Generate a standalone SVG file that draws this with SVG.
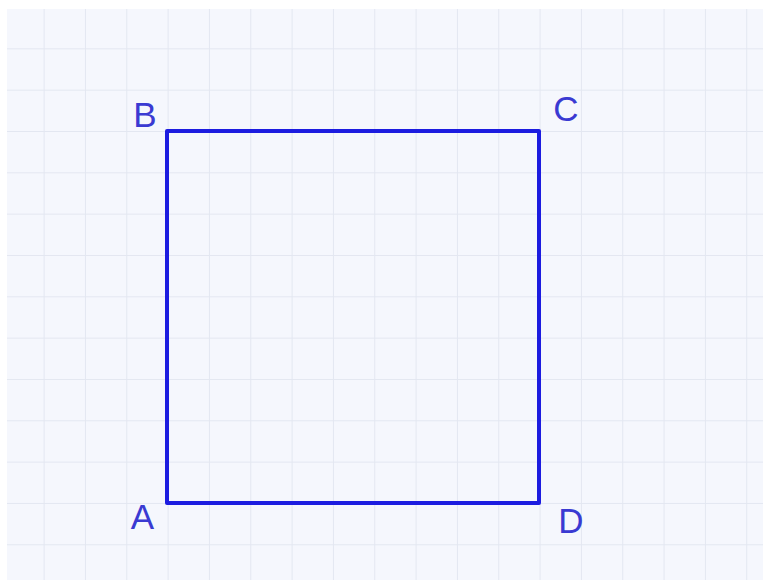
<svg xmlns="http://www.w3.org/2000/svg" width="767" height="583" viewBox="0 0 767 583">
<defs>
<pattern id="grid" x="2.3" y="7" width="41.33" height="41.33" patternUnits="userSpaceOnUse">
<path d="M0 0.5H41.33M0.5 0V41.33" fill="none" stroke="#e3e7f1" stroke-width="1"/>
</pattern>
<style>
.lbl{font-family:"Liberation Sans",Arial,sans-serif;font-size:35px;fill:#3a3ad2;text-anchor:middle}
.edge{stroke:#1c1ce0;stroke-width:4;fill:none;stroke-linecap:round;stroke-linejoin:round}
</style>
</defs>
<rect width="767" height="583" fill="#ffffff"/>
<rect x="7" y="9" width="756" height="571" fill="#f5f7fd"/>
<rect x="7" y="9" width="756" height="571" fill="url(#grid)"/>
<g id="connectors">
<path class="edge" d="M167 131H539V503H167Z"/>
</g>
<g id="node-A"><text class="lbl" x="142.5" y="529">A</text></g>
<g id="node-B"><text class="lbl" x="145" y="127">B</text></g>
<g id="node-C"><text class="lbl" x="566" y="121">C</text></g>
<g id="node-D"><text class="lbl" x="571" y="533">D</text></g>
</svg>
